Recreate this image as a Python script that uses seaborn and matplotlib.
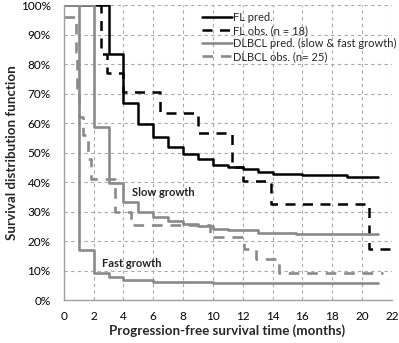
import matplotlib
matplotlib.use("Agg")
import matplotlib.pyplot as plt
import seaborn as sns

# ===============================
# Data
# ===============================
# FL predicted (black solid)
fl_pred_t = [0, 3, 4, 5, 6, 7, 8, 9, 10, 11, 12, 13, 14, 16, 19, 21.1]
fl_pred_s = [100, 83.5, 66.7, 59.7, 55.4, 52, 49.5, 48, 45.8, 45.2, 44.3, 43.5, 42.9, 42.4, 41.6, 41.6]

# FL observed (black dashed)
fl_obs_t = [0, 2.5, 2.9, 4, 6.45, 9, 11.25, 12, 13.9, 20.5, 22]
fl_obs_s = [100, 83.3, 77, 70.6, 63.6, 56.5, 45.2, 40.4, 32.6, 17.3, 17.3]

# DLBCL predicted, slow growth (grey solid)
slow_t = [0, 2, 3, 4, 5, 6, 7, 8, 9, 10, 11, 13, 15.6, 21.1]
slow_s = [100, 58.8, 39.8, 33.1, 29.9, 28.2, 26.9, 25.8, 25.1, 24.1, 23.7, 22.8, 22.4, 22.4]

# DLBCL predicted, fast growth (grey solid)
fast_t = [0, 1, 2, 3, 4, 6, 10, 21.1]
fast_s = [100, 17, 9.3, 7.9, 6.8, 6.2, 5.9, 5.9]

# DLBCL observed (grey dashed)
dl_obs_t = [0, 0.8, 0.9, 1.0, 1.3, 1.6, 1.8, 3.4, 4.5, 9.8, 12.1, 12.9, 14.45, 21.4]
dl_obs_s = [96, 84, 72, 62, 56, 48, 41.2, 30, 25.4, 21.3, 17.3, 13.8, 9.3, 9.3]

x_ticks = list(range(0, 23, 2))
y_ticks = list(range(0, 101, 10))

# ===============================
# Style
# ===============================
sns.set_style("white")
plt.rcParams["font.family"] = ["Lato", "DejaVu Sans"]

BLACK = "#000000"
GREY = "#8a8a8a"
GRID = "#a8a8a8"

fig = plt.figure(figsize=(3.99, 3.43), dpi=100)
ax = fig.add_axes([0.160, 0.125, 0.822, 0.860])

common = dict(drawstyle="steps-post", estimator=None, sort=False, ax=ax)

sns.lineplot(x=fl_pred_t, y=fl_pred_s, color=BLACK, lw=1.8, label="FL pred.", **common)
sns.lineplot(x=fl_obs_t, y=fl_obs_s, color=BLACK, lw=1.8, linestyle=(0, (4, 3)),
             label="FL obs. (n = 18)", **common)
sns.lineplot(x=dl_obs_t, y=dl_obs_s, color=GREY, lw=1.9, linestyle=(0, (4, 3)),
             label="DLBCL obs. (n= 25)", **common)
sns.lineplot(x=slow_t, y=slow_s, color=GREY, lw=1.9,
             label="DLBCL pred. (slow & fast growth)", **common)
sns.lineplot(x=fast_t, y=fast_s, color=GREY, lw=1.9, label="_nolegend_", **common)

# annotations
ax.text(4.55, 36.6, "Slow growth", fontsize=8, fontweight="bold", color="#222222", va="center")
ax.text(2.55, 12.5, "Fast growth", fontsize=8, fontweight="bold", color="#222222", va="center")

# ===============================
# Axes
# ===============================
ax.set_xlim(0, 22)
ax.set_ylim(0, 100)
ax.set_xticks(x_ticks)
ax.set_yticks(y_ticks)
ax.set_yticklabels([f"{v}%" for v in y_ticks])
ax.tick_params(axis="both", length=0, labelsize=8.5, colors="#000000")
ax.tick_params(axis="y", pad=9.5)
ax.tick_params(axis="x", pad=8)

ax.grid(True, color=GRID, linestyle=(0, (3, 3)), lw=0.8)
ax.set_axisbelow(True)
for side in ["top", "right"]:
    ax.spines[side].set_visible(False)
for side in ["left", "bottom"]:
    ax.spines[side].set_color("#a0a0a0")
    ax.spines[side].set_linewidth(1.0)

ax.set_xlabel("Progression-free survival time (months)", fontsize=9.6, fontweight="bold")
ax.set_ylabel("Survival distribution function", fontsize=9.6, fontweight="bold")
ax.xaxis.set_label_coords(0.498, -0.082)
ax.yaxis.set_label_coords(-0.140, 0.5)

# legend in the reference order
handles, labels = ax.get_legend_handles_labels()
order = [labels.index(n) for n in ["FL pred.", "FL obs. (n = 18)",
                                   "DLBCL pred. (slow & fast growth)", "DLBCL obs. (n= 25)"]]
leg = ax.legend([handles[i] for i in order], [labels[i] for i in order],
                loc="upper left", bbox_to_anchor=(0.42, 0.978), frameon=False,
                fontsize=8, handlelength=2.7, handletextpad=0.15,
                labelspacing=0.2, borderpad=0, borderaxespad=0)

fig.savefig("out.png", dpi=100)
